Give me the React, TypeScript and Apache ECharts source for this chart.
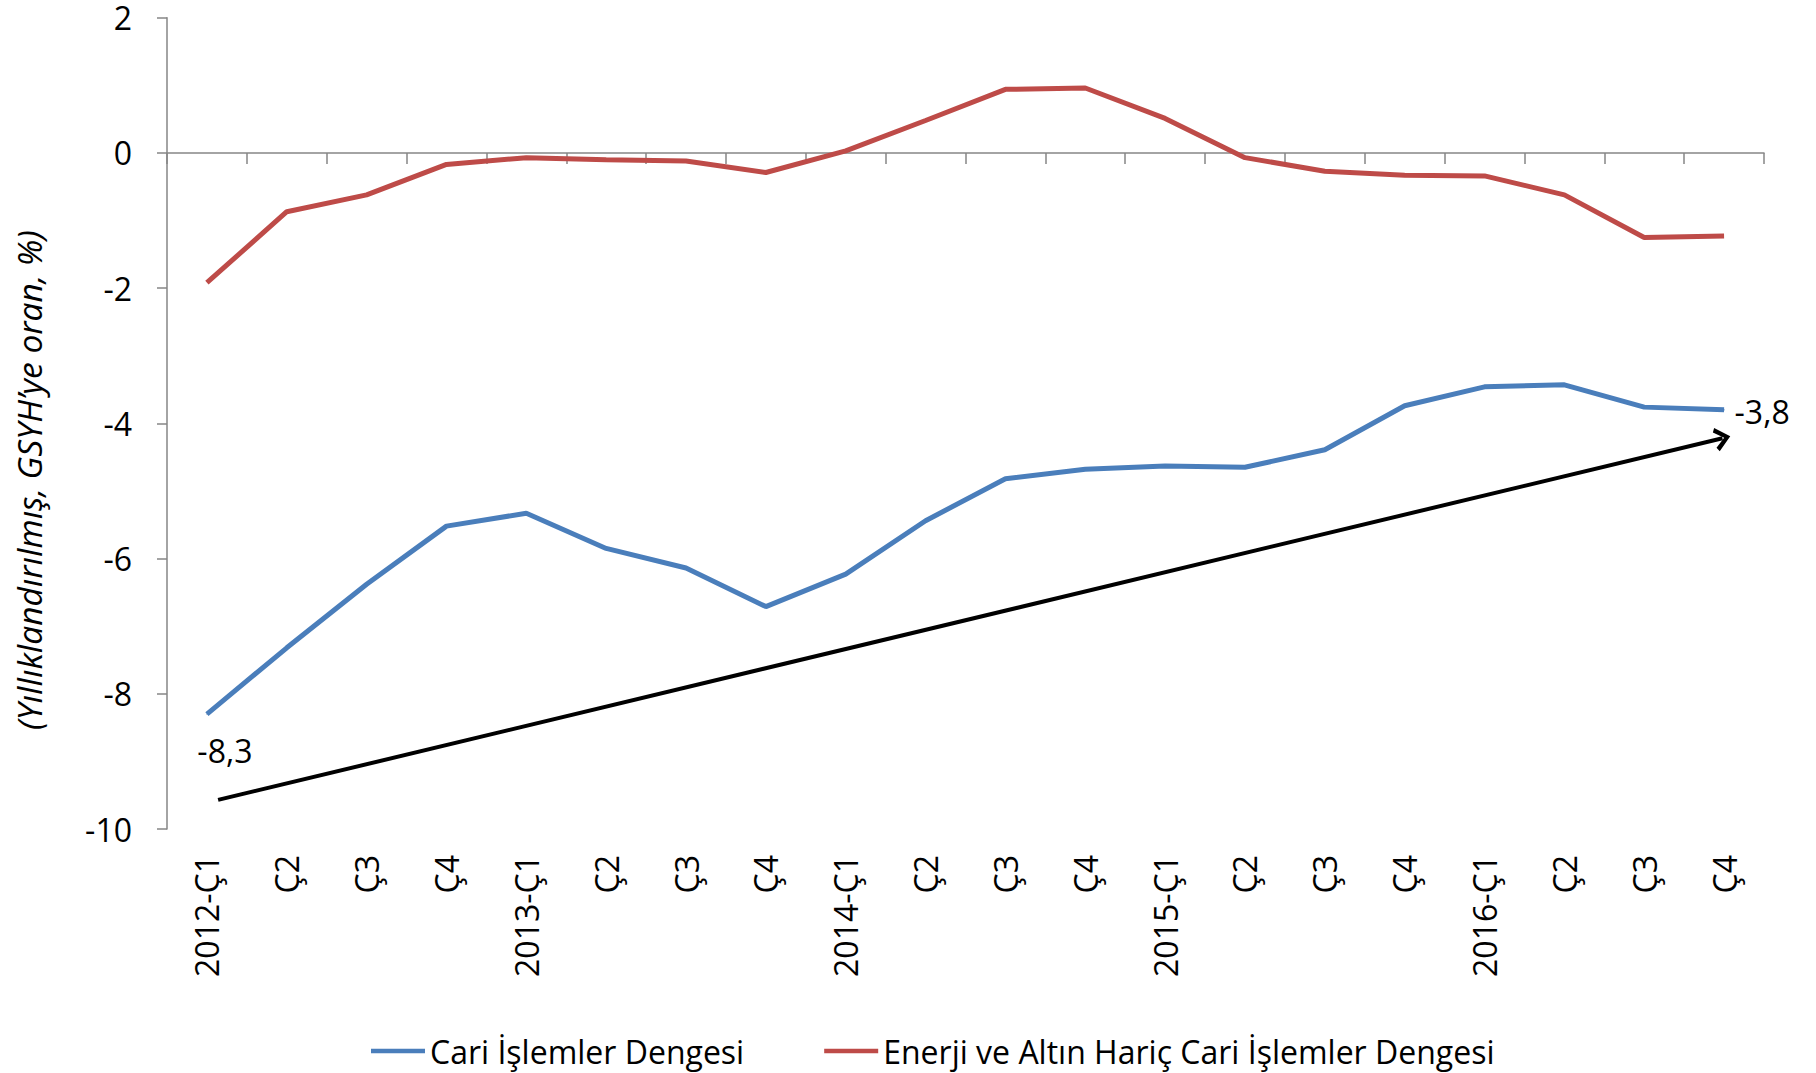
import React, { useEffect, useRef } from "react";
import * as echarts from "echarts";

const categories = [
  "2012-Ç1", "Ç2", "Ç3", "Ç4",
  "2013-Ç1", "Ç2", "Ç3", "Ç4",
  "2014-Ç1", "Ç2", "Ç3", "Ç4",
  "2015-Ç1", "Ç2", "Ç3", "Ç4",
  "2016-Ç1", "Ç2", "Ç3", "Ç4",
];

const cariIslemler = [
  -8.3, -7.32, -6.38, -5.52,
  -5.33, -5.85, -6.14, -6.71,
  -6.23, -5.44, -4.82, -4.68,
  -4.63, -4.65, -4.39, -3.74,
  -3.46, -3.43, -3.76, -3.8,
];

const enerjiAltinHaric = [
  -1.92, -0.87, -0.62, -0.17,
  -0.07, -0.1, -0.12, -0.29,
  0.03, 0.48, 0.94, 0.96,
  0.51, -0.07, -0.27, -0.33,
  -0.34, -0.62, -1.25, -1.23,
];

const seriesNames = ["Cari İşlemler Dengesi", "Enerji ve Altın Hariç Cari İşlemler Dengesi"];
const yTicks = { min: -10, max: 2, interval: 2 };
const trendArrow = [
  [0.14, -9.57],
  [18.98, -4.22],
];
const yAxisTitle = "(Yıllıklandırılmış, GSYH’ye oran, %)";

const FONT = "'Open Sans', sans-serif";

export default function App() {
  const ref = useRef<HTMLDivElement>(null);
  useEffect(() => {
    document.body.style.margin = "0";
    if (!ref.current) return;
    const chart = echarts.init(ref.current, null, { renderer: "svg" });
    const fmt = (v: number) => v.toFixed(1).replace(".", ",");
    const blueData = cariIslemler.map((v, i) => {
      if (i === 0) {
        return {
          value: v,
          label: { show: true, position: "bottom", distance: 20, offset: [18, 0], formatter: () => fmt(v) },
        };
      }
      if (i === cariIslemler.length - 1) {
        return {
          value: v,
          label: { show: true, position: "right", distance: 10, offset: [0, 2], formatter: () => fmt(v) },
        };
      }
      return v;
    });
    chart.setOption({
      animation: false,
      textStyle: { fontFamily: FONT },
      grid: {
        left: 167,
        right: 52,
        top: 17.7,
        bottom: 244,
        containLabel: false,
        outerBoundsMode: "none",
      },
      legend: {
        data: seriesNames,
        left: 366,
        top: 1028,
        icon: "rect",
        itemWidth: 54,
        itemHeight: 4.5,
        itemGap: 80,
        textStyle: { fontSize: 32, lineHeight: 36, color: "#000", fontFamily: FONT },
      },
      xAxis: [
        {
          type: "category",
          data: categories,
          position: "bottom",
          boundaryGap: true,
          axisLine: { show: false, onZero: false },
          axisTick: { show: false },
          axisLabel: { rotate: 90, margin: 26, fontSize: 32, color: "#000", interval: 0, fontFamily: FONT },
        },
        {
          type: "category",
          data: categories,
          position: "bottom",
          boundaryGap: true,
          axisLine: { show: true, onZero: true, lineStyle: { color: "#868686", width: 1.5 } },
          axisTick: { show: true, interval: 0, length: 11, lineStyle: { color: "#868686", width: 1.5 } },
          axisLabel: { show: false },
        },
        {
          type: "value",
          min: -0.5,
          max: 19.5,
          show: false,
          axisLine: { onZero: false },
        },
      ],
      yAxis: {
        type: "value",
        position: "left",
        min: yTicks.min,
        max: yTicks.max,
        interval: yTicks.interval,
        axisLine: { show: true, onZero: false, lineStyle: { color: "#868686", width: 1.5 } },
        axisTick: { show: true, length: 10, lineStyle: { color: "#868686", width: 1.5 } },
        splitLine: { show: false },
        axisLabel: { fontSize: 32, lineHeight: 32, color: "#000", margin: 35, fontFamily: FONT },
      },
      series: [
        {
          name: seriesNames[0],
          type: "line",
          xAxisIndex: 0,
          data: blueData,
          showSymbol: true,
          symbol: "circle",
          symbolSize: 1,
          itemStyle: { color: "#4A7EBB" },
          lineStyle: { color: "#4A7EBB", width: 5 },
          label: { fontSize: 32, color: "#000", fontFamily: FONT },
          z: 3,
        },
        {
          name: seriesNames[1],
          type: "line",
          xAxisIndex: 0,
          data: enerjiAltinHaric,
          showSymbol: false,
          itemStyle: { color: "#BE4B48" },
          lineStyle: { color: "#BE4B48", width: 5 },
          z: 3,
        },
        {
          type: "line",
          xAxisIndex: 2,
          data: [],
          silent: true,
          markLine: {
            silent: true,
            symbol: ["none", "path://M0,12 L10,0 L20,12 L16.5,14 L10,5.5 L3.5,14 Z"],
            symbolSize: [24, 16],
            label: { show: false },
            lineStyle: { color: "#000", width: 4, type: "solid" },
            data: [
              [
                { coord: trendArrow[0] },
                { coord: trendArrow[1] },
              ],
            ],
          },
        },
      ],
      graphic: [
        {
          type: "text",
          x: 29,
          y: 480,
          rotation: Math.PI / 2,
          style: {
            text: yAxisTitle,
            fontSize: 33.5,
            fontStyle: "italic",
            fontFamily: FONT,
            fill: "#000",
            align: "center",
            verticalAlign: "middle",
          },
        },
      ],
    });
    return () => chart.dispose();
  }, []);
  return <div ref={ref} style={{ width: 1816, height: 1073 }} />;
}
